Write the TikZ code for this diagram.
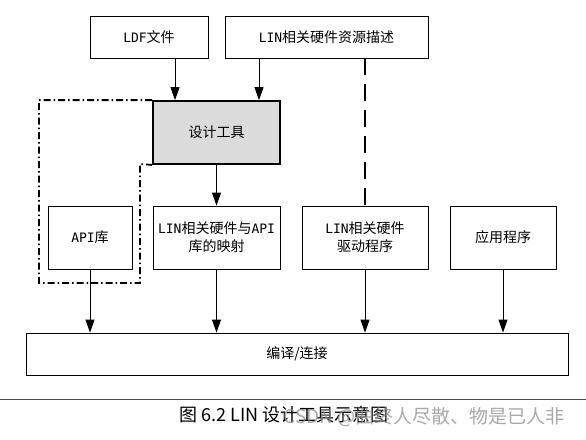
\documentclass[tikz,border=0pt]{standalone}
\usepackage{fontspec}
\setmainfont{Noto Sans CJK SC}
\newfontfamily\monofam{DejaVu Sans Mono}
\usetikzlibrary{arrows.meta}
\newcommand{\lt}[1]{{\monofam\fontsize{13}{18}\selectfont #1}}
\begin{document}
\begin{tikzpicture}[x=1pt,y=-1pt,
  box/.style={draw, line width=0.9pt, inner sep=0pt, align=center, font=\fontsize{14}{18}\selectfont},
  arr/.style={line width=0.9pt, -{Triangle[length=13pt,width=9pt]}},
  dd/.style={line width=1.8pt, dash pattern=on 7pt off 3pt on 1.5pt off 3pt},
  dsh/.style={line width=1.8pt, dash pattern=on 17pt off 9pt}]
\useasboundingbox (0,0) rectangle (586,439);
\node[box, minimum width=118pt, minimum height=42pt] (ldf) at (149,37) {\lt{LDF}文件};
\node[box, minimum width=203pt, minimum height=42pt] (res) at (326.5,37) {\lt{LIN}相关硬件资源描述};
\node[box, line width=1.8pt, fill=black!14, minimum width=127pt, minimum height=63pt] (tool) at (216.5,132.5) {设计工具};
\node[box, minimum width=84pt, minimum height=63pt] (api) at (90,237.5) {\lt{API}库};
\node[box, minimum width=127pt, minimum height=63pt] (map) at (216.5,237.5) {\lt{LIN}相关硬件与\lt{API}\\库的映射};
\node[box, minimum width=126pt, minimum height=63pt] (drv) at (365,237.5) {\lt{LIN}相关硬件\\驱动程序};
\node[box, minimum width=106pt, minimum height=63pt] (app) at (503,237.5) {应用程序};
\node[box, minimum width=542pt, minimum height=42pt] (comp) at (297,354) {编译/连接};
\coordinate (xa) at (175,0);
\coordinate (xb) at (259,0);
\draw[arr] (ldf.south -| xa) -- (tool.north -| xa);
\draw[arr] (res.south -| xb) -- (tool.north -| xb);
\draw[dsh] (res.south -| drv.north) -- (drv.north);
\draw[arr] (tool) -- (map);
\draw[arr] (api) -- (api.south |- comp.north);
\draw[arr] (map) -- (map.south |- comp.north);
\draw[arr] (drv) -- (drv.south |- comp.north);
\draw[arr] (app) -- (app.south |- comp.north);
\draw[dd] (tool.north west) -| (39,283) -| (140,164) -- (tool.south west);
\draw[line width=1pt, black!70] (0,399) -- (586,399);
\node[font=\fontsize{18}{20}\selectfont, inner sep=0pt] (cap) at (284,415) {图 6.2 LIN 设计工具示意图};
\node[font=\fontsize{19}{21}\selectfont, inner sep=0pt, text=black!45, opacity=0.75] (wm) at (424,417) {CSDN @曲终人尽散、物是已人非};
\end{tikzpicture}
\end{document}
